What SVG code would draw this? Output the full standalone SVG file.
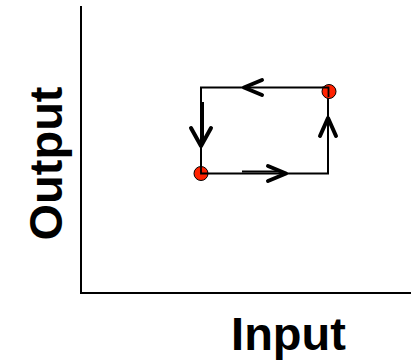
<svg xmlns="http://www.w3.org/2000/svg" width="411" height="362" viewBox="0 0 411 362">
<style>
.ax{fill:none;stroke:#000;stroke-width:2}
.edge{fill:none;stroke:#000;stroke-width:2}
.head{fill:none;stroke:#000;stroke-width:4;stroke-linecap:round;stroke-linejoin:round}
.pt{fill:#ff2200;stroke:#000;stroke-width:1}
.lbl{font-family:"Liberation Sans",Arial,sans-serif;font-weight:bold;font-size:47px;fill:#000}
</style>
<rect width="411" height="362" fill="#fff"/>
<g id="axes">
<path class="ax" d="M81,6 V293 H411"/>
</g>
<g id="connectors">
<path class="edge" d="M329,87.5 H201 V173.5 H328 V91"/>
<path class="edge" d="M203,102 V140"/>
<path class="edge" d="M242,171.5 H280"/>
<path class="head" d="M262,80 L244,87.5 L262,95"/>
<path class="head" d="M191,128 L201,146 L211,128"/>
<path class="head" d="M268,166 L286,173.5 L268,181"/>
<path class="head" d="M320,136 L328,118 L336,136"/>
</g>
<g id="point-top-right">
<circle class="pt" cx="329" cy="91.5" r="7"/>
<path d="M322.5,87.5 H328.5 V97" fill="none" stroke="#000" stroke-width="1.8"/>
</g>
<g id="point-bottom-left">
<circle class="pt" cx="201" cy="173.5" r="7"/>
<path d="M201,166.5 V173.5 H208" fill="none" stroke="#000" stroke-width="1.8"/>
</g>
<g id="label-output">
<text class="lbl" text-anchor="middle" transform="translate(62,163.5) rotate(-90)">Output</text>
</g>
<g id="label-input">
<text class="lbl" x="288.5" y="350" text-anchor="middle">Input</text>
</g>
</svg>
